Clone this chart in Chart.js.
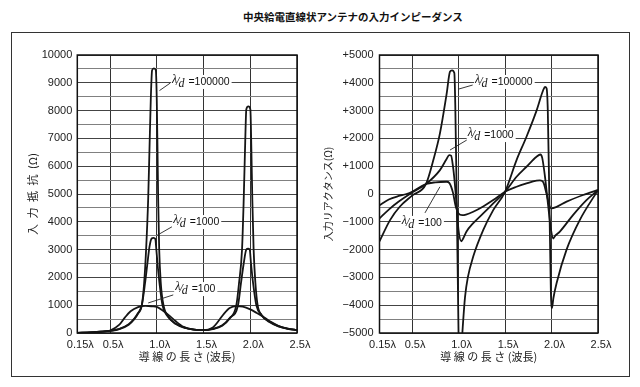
<!DOCTYPE html>
<html>
<head>
<meta charset="utf-8">
<script src="https://cdn.jsdelivr.net/npm/chart.js@4.4.0/dist/chart.umd.min.js"></script>
<style>
  body { margin: 0; background: #fff; }
  #wrap { position: relative; width: 640px; height: 387px; overflow: hidden; background: #fff; }
  #title { position: absolute; left: 243px; top: 10px; white-space: nowrap;
           font: bold 10.5px "Noto Sans CJK JP"; line-height: 14px; color: #111; }
  #frame { position: absolute; left: 11px; top: 32px; width: 617px; height: 343px; border: 1px solid #333; }
  canvas { position: absolute; top: 0; }
</style>
</head>
<body>
<div id="wrap">
  <div id="frame"></div>
  <div id="title">中央給電直線状アンテナの入力インピーダンス</div>
  <canvas id="resChart" width="320" height="387" style="left:0"></canvas>
  <canvas id="reactChart" width="320" height="387" style="left:320px"></canvas>
</div>
<script>
// x axis (wire length in wavelengths)
const xTickValues = [0.15, 0.5, 1.0, 1.5, 2.0, 2.5];
const xTickLabels = ['0.15λ', '0.5λ', '1.0λ', '1.5λ', '2.0λ', '2.5λ'];
const seriesNames = ['λ/d=100000', 'λ/d=1000', 'λ/d=100'];

// input resistance (Ω)
const rTickValues = [0, 1000, 2000, 3000, 4000, 5000, 6000, 7000, 8000, 9000, 10000];
const rTickLabels = ['0', '1000', '2000', '3000', '4000', '5000', '6000', '7000', '8000', '9000', '10000'];

const rX100000 = [0.15, 0.3, 0.4, 0.5, 0.6, 0.7, 0.76, 0.8, 0.84, 0.865, 0.886, 0.908, 0.922, 0.936, 0.95, 0.97, 0.99, 1.0, 1.008, 1.015,
                  1.026, 1.043, 1.072, 1.126, 1.2, 1.3, 1.4, 1.5, 1.6, 1.7, 1.78, 1.851, 1.88, 1.912, 1.93, 1.944, 1.958, 1.98, 2.001, 2.012,
                  2.022, 2.036, 2.055, 2.079, 2.12, 2.2, 2.3, 2.4, 2.5];
const rY100000 = [5, 25, 45, 75, 140, 300, 500, 700, 1000, 1800, 3000, 4800, 6600, 8400, 9450, 9520, 9450, 8400, 6600, 4800,
                  3000, 1800, 1000, 580, 330, 180, 120, 100, 140, 260, 520, 1000, 1800, 3000, 4800, 6600, 8050, 8150, 8050, 6600,
                  4800, 3000, 1800, 1000, 650, 420, 250, 160, 110];

const rX1000 = [0.15, 0.3, 0.4, 0.5, 0.6, 0.7, 0.76, 0.8, 0.84, 0.875, 0.9, 0.922, 0.945, 0.965, 0.985, 0.993, 1.008, 1.029, 1.061, 1.115,
                1.2, 1.3, 1.4, 1.5, 1.6, 1.7, 1.78, 1.869, 1.901, 1.93, 1.958, 1.976, 1.994, 2.008, 2.03, 2.065, 2.12, 2.2, 2.3, 2.4, 2.5];
const rY1000 = [5, 25, 45, 75, 150, 320, 520, 720, 1000, 1800, 2500, 3100, 3400, 3420, 3380, 3100, 2500, 1800, 1000, 600,
                340, 190, 125, 100, 150, 280, 540, 1000, 1800, 2500, 3000, 3030, 3000, 2500, 1800, 1000, 650, 400, 240, 150, 110];

const rX100 = [0.15, 0.3, 0.4, 0.5, 0.6, 0.66, 0.72, 0.8, 0.88, 0.95, 1.0, 1.06, 1.144, 1.2, 1.286, 1.4, 1.5, 1.6, 1.66, 1.72,
               1.78, 1.85, 1.92, 2.0, 2.07, 2.15, 2.22, 2.3, 2.4, 2.5];
const rY100 = [5, 30, 50, 90, 300, 560, 780, 930, 975, 960, 940, 820, 600, 430, 220, 120, 100, 200, 430, 700,
               900, 970, 950, 850, 720, 560, 400, 260, 160, 110];

// input reactance (Ω)
const xTickValuesR = [5000, 4000, 3000, 2000, 1000, 0, -1000, -2000, -3000, -4000, -5000];
const xTickLabelsR = ['+5000', '+4000', '+3000', '+2000', '+1000', '0', '−1000', '−2000', '−3000', '−4000', '−5000'];

const xX100000 = [0.15, 0.265, 0.37, 0.5, 0.65, 0.729, 0.8, 0.872, 0.908, 0.93, 0.955, 0.965, 0.98, 1.0, 1.012, 1.045, 1.07, 1.1, 1.158, 1.265,
                  1.373, 1.5, 1.624, 1.731, 1.839, 1.911, 1.93, 1.947, 1.96, 1.976, 1.993, 2.005, 2.02, 2.055, 2.162, 2.305, 2.5];
const xY100000 = [-1700, -930, -450, -60, 360, 1220, 2180, 3600, 4400, 4450, 4350, 3200, 0, -5000, -6500, -4800, -3700, -3000, -2250, -1300,
                  -580, 80, 1220, 2060, 3000, 3740, 3850, 3800, 3000, 0, -3500, -4100, -3750, -3200, -2000, -930, 140];

const xX1000 = [0.15, 0.25, 0.35, 0.5, 0.65, 0.8, 0.87, 0.9, 0.92, 0.94, 0.96, 0.98, 1.0, 1.03, 1.05, 1.086, 1.158, 1.265, 1.373, 1.5,
                1.624, 1.731, 1.839, 1.88, 1.9, 1.93, 1.965, 1.995, 2.019, 2.04, 2.09, 2.233, 2.376, 2.5];
const xY1000 = [-880, -560, -290, 50, 360, 860, 1250, 1400, 1380, 1000, 380, -450, -1300, -1700, -1600, -1350, -1050, -700, -340, 80,
                620, 980, 1340, 1420, 1300, 620, -450, -1300, -1600, -1500, -1350, -750, -220, 140];

const xX100 = [0.15, 0.25, 0.35, 0.44, 0.5, 0.65, 0.75, 0.872, 0.9, 0.94, 0.97, 1.0, 1.04, 1.08, 1.158, 1.265, 1.373, 1.5, 1.624, 1.731,
               1.839, 1.875, 1.91, 1.947, 1.98, 2.0, 2.05, 2.162, 2.34, 2.5];
const xY100 = [-400, -200, -80, 0, 80, 360, 420, 440, 400, 50, -450, -700, -760, -740, -640, -450, -220, 80, 260, 380,
               480, 490, 430, 0, -450, -515, -470, -275, -35, 145];

// curve labels: text start, leader line from / to (in data units)
const resNotes = [
  { text: '=100000', at: [1.162, 9030], from: [1.144, 8990], to: [1.029, 8720] },
  { text: '=1000', at: [1.176, 3990], from: [1.162, 3820], to: [1.001, 3510] },
  { text: '=100', at: [1.197, 1580], from: [1.176, 1370], to: [0.908, 1080] }
];
const reactNotes = [
  { text: '=100000', at: [1.177, 4030], from: [1.152, 3920], to: [0.997, 3770] },
  { text: '=1000', at: [1.098, 2120], from: [1.088, 1940], to: [0.908, 1580] },
  { text: '=100', at: [0.389, -1040], from: [0.639, -680], to: [0.80, 260] }
];

function zip(xs, ys) {
  return xs.map((x, i) => ({ x: x, y: ys[i] }));
}

function lineSet(label, xs, ys) {
  return {
    label: label,
    data: zip(xs, ys),
    borderColor: '#151515',
    borderWidth: 1.8,
    pointRadius: 0,
    fill: false,
    cubicInterpolationMode: 'monotone'
  };
}

const notesPlugin = {
  id: 'notes',
  afterDatasetsDraw(chart, args, opts) {
    const ctx = chart.ctx, sx = chart.scales.x, sy = chart.scales.y;
    ctx.save();
    opts.items.forEach(n => {
      const tx = sx.getPixelForValue(n.at[0]);
      const ty = sy.getPixelForValue(n.at[1]);
      ctx.font = 'italic 12px "Liberation Serif"';
      const w1 = ctx.measureText('λ/d').width;
      ctx.font = '10.5px "Liberation Sans"';
      const w2 = ctx.measureText(n.text).width;
      ctx.fillStyle = '#fff';
      ctx.fillRect(tx - 1, ty - 7, w1 + w2 + 5, 14);

      ctx.strokeStyle = '#222';
      ctx.lineWidth = 0.9;
      ctx.beginPath();
      ctx.moveTo(sx.getPixelForValue(n.from[0]), sy.getPixelForValue(n.from[1]));
      ctx.lineTo(sx.getPixelForValue(n.to[0]), sy.getPixelForValue(n.to[1]));
      ctx.stroke();

      ctx.fillStyle = '#111';
      ctx.textAlign = 'left';
      ctx.textBaseline = 'middle';
      ctx.font = 'italic 12px "Liberation Serif"';
      ctx.fillText('λ', tx, ty - 2);
      const wl = ctx.measureText('λ').width;
      ctx.fillText('/', tx + wl - 1, ty);
      const ws = ctx.measureText('/').width;
      ctx.fillText('d', tx + wl + ws - 2, ty + 2);
      ctx.font = '10.5px "Liberation Sans"';
      ctx.fillText(n.text, tx + w1 + 2, ty);
    });
    ctx.restore();
  }
};

const framePlugin = {
  id: 'plotFrame',
  afterDraw(chart) {
    const a = chart.chartArea, ctx = chart.ctx;
    ctx.save();
    ctx.strokeStyle = '#111';
    ctx.lineWidth = 1.5;
    ctx.strokeRect(a.left, a.top, a.right - a.left, a.bottom - a.top);
    ctx.restore();
  }
};

function makeChart(id, datasets, yMin, yMax, yVals, yLabels, yTitle, yTitleFont, yTitlePad, yWidth, padRight, labelPad, notes) {
  const ctx = document.getElementById(id).getContext('2d');
  return new Chart(ctx, {
    type: 'line',
    data: { datasets: datasets },
    options: {
      responsive: false,
      animation: false,
      devicePixelRatio: 1,
      layout: { padding: { left: 0, right: padRight, top: 55, bottom: 0 } },
      plugins: {
        legend: { display: false },
        tooltip: { enabled: false },
        notes: { items: notes }
      },
      scales: {
        x: {
          type: 'linear',
          min: 0.15,
          max: 2.5,
          afterBuildTicks: s => { s.ticks = xTickValues.map(v => ({ value: v })); },
          afterFit: s => { s.height = 54; },
          ticks: {
            autoSkip: false,
            maxRotation: 0,
            padding: 5,
            labelOffset: 3,
            color: '#222',
            font: { family: 'Liberation Sans', size: 11 },
            callback: v => xTickLabels[xTickValues.indexOf(v)]
          },
          grid: { color: '#333', lineWidth: 1, drawTicks: false },
          border: { display: false },
          title: {
            display: true,
            text: '導 線 の 長 さ (波長)',
            color: '#222',
            font: { family: 'Noto Sans CJK JP', size: 11 },
            padding: { top: 0, bottom: 24 }
          }
        },
        y: {
          min: yMin,
          max: yMax,
          afterFit: s => { s.width = yWidth; },
          ticks: {
            stepSize: 500,
            autoSkip: false,
            padding: labelPad,
            color: '#222',
            font: { family: 'Liberation Sans', size: 11 },
            callback: v => {
              const i = yVals.indexOf(v);
              return i >= 0 ? yLabels[i] : '';
            }
          },
          grid: {
            drawTicks: false,
            lineWidth: 1,
            color: c => (c.tick && c.tick.value % 1000 === 0) ? '#444' : '#808080'
          },
          border: { display: false },
          title: {
            display: true,
            text: yTitle,
            color: '#222',
            font: yTitleFont,
            padding: { top: yTitlePad, bottom: 0 }
          }
        }
      }
    },
    plugins: [notesPlugin, framePlugin]
  });
}

makeChart('resChart',
  [lineSet(seriesNames[0], rX100000, rY100000), lineSet(seriesNames[1], rX1000, rY1000), lineSet(seriesNames[2], rX100, rY100)],
  0, 10000, rTickValues, rTickLabels,
  '入\u2002力\u2002抵\u2002抗\u2002(Ω)', { family: 'Noto Sans CJK JP', size: 11 }, 26, 77.3, 23, 5, resNotes);

makeChart('reactChart',
  [lineSet(seriesNames[0], xX100000, xY100000), lineSet(seriesNames[1], xX1000, xY1000), lineSet(seriesNames[2], xX100, xY100)],
  -5000, 5000, xTickValuesR, xTickLabelsR,
  '入力リアクタンス(Ω)', { family: 'Noto Sans CJK JP', size: 10 }, 2, 59.5, 42, 6, reactNotes);
</script>
</body>
</html>
